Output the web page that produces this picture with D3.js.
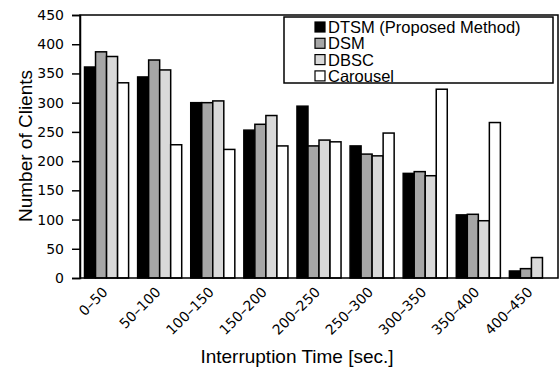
<!DOCTYPE html>
<html>
<head>
<meta charset="utf-8">
<script src="https://cdn.jsdelivr.net/npm/d3@7"></script>
<style>
body { margin: 0; background: #fff; }
text { font-family: "Liberation Sans", Arial, sans-serif; fill: #000; }
.tick text { font-family: "DejaVu Sans", sans-serif; }
</style>
</head>
<body>
<script>
var width = 560, height = 370;

var categories = ["0–50", "50–100", "100–150", "150–200", "200–250", "250–300", "300–350", "350–400", "400–450"];
var seriesNames = ["DTSM (Proposed Method)", "DSM", "DBSC", "Carousel"];
var dtsm = [361, 344, 300, 253, 294, 226, 179, 108, 12];
var dsm = [387, 373, 300, 263, 226, 212, 182, 109, 16];
var dbsc = [379, 356, 303, 278, 236, 209, 175, 98, 35];
var carousel = [334, 228, 220, 226, 233, 248, 323, 266, 0];
var yTicks = [0, 50, 100, 150, 200, 250, 300, 350, 400, 450];
var colors = ["#000000", "#a6a6a6", "#d9d9d9", "#ffffff"];

var series = [dtsm, dsm, dbsc, carousel];

var margin = {left: 80, top: 15, right: 2, bottom: 92};

var svg = d3.select("body")
.append("svg")
.attr("width", width)
.attr("height", height);

var x = d3.scaleBand()
.domain(categories)
.range([margin.left, width - margin.right])
.paddingInner(0.17)
.paddingOuter(0.085);

var xs = d3.scaleBand()
.domain(d3.range(series.length))
.range([0, x.bandwidth()]);

var y = d3.scaleLinear()
.domain([0, 450])
.range([height - margin.bottom, margin.top]);

//bars
var groups = svg.selectAll(".grp")
.data(categories)
.enter()
.append("g")
.attr("class", "grp")
.attr("transform", function(d) { return "translate(" + x(d) + ",0)" });

groups.each(function(c, ci) {
	d3.select(this).selectAll("rect")
	.data(series.map(function(s, si) { return {si: si, v: s[ci]} }).filter(function(d) { return d.v > 0 }))
	.enter()
	.append("rect")
	.attr("x", function(d) { return xs(d.si) })
	.attr("width", xs.bandwidth())
	.attr("y", function(d) { return y(d.v) })
	.attr("height", function(d) { return y(0) - y(d.v) })
	.attr("fill", function(d) { return colors[d.si] })
	.attr("stroke", "#000")
	.attr("stroke-width", 1.5);
});

//frame
svg.append("rect")
.attr("x", margin.left)
.attr("y", margin.top)
.attr("width", width - margin.right - margin.left)
.attr("height", y(0) - margin.top)
.attr("fill", "none")
.attr("stroke", "#000")
.attr("stroke-width", 1.5);

//y axis
var yAxis = svg.append("g")
.attr("transform", "translate(" + margin.left + ",0)")
.call(d3.axisLeft(y).tickValues(yTicks).tickSize(8).tickPadding(8));
yAxis.select(".domain").attr("stroke-width", 1.5);
yAxis.selectAll("line").attr("stroke-width", 1.5);
yAxis.selectAll("text").style("font-size", "14px").attr("font-family", null);

//x axis labels
var xAxis = svg.append("g")
.attr("transform", "translate(0," + y(0) + ")")
.call(d3.axisBottom(x).tickSize(0).tickPadding(0));
xAxis.select(".domain").remove();
xAxis.selectAll("text")
.attr("font-family", null)
.style("font-size", "14px")
.attr("text-anchor", "end")
.attr("dy", null)
.attr("y", 0)
.attr("transform", "translate(2,15) rotate(-45)");

//axis titles
svg.append("text")
.attr("x", 297)
.attr("y", 363)
.attr("text-anchor", "middle")
.style("font-size", "19px")
.text("Interruption Time [sec.]");

svg.append("text")
.attr("transform", "translate(32,146) rotate(-90)")
.attr("text-anchor", "middle")
.style("font-size", "19px")
.text("Number of Clients");

//legend
var legend = svg.append("g");
legend.append("rect")
.attr("x", 284)
.attr("y", 17)
.attr("width", 269)
.attr("height", 66)
.attr("fill", "#fff")
.attr("stroke", "#000")
.attr("stroke-width", 1.5);

var items = legend.selectAll(".item")
.data(seriesNames)
.enter()
.append("g")
.attr("class", "item")
.attr("transform", function(d, i) { return "translate(315," + (27 + i * 16.3) + ")" });

items.append("rect")
.attr("x", 0)
.attr("y", -5)
.attr("width", 10)
.attr("height", 10)
.attr("fill", function(d, i) { return colors[i] })
.attr("stroke", "#000")
.attr("stroke-width", 1.2);

items.append("text")
.attr("x", 13)
.attr("y", 6)
.style("font-size", "16.5px")
.text(function(d) { return d });
</script>
</body>
</html>
